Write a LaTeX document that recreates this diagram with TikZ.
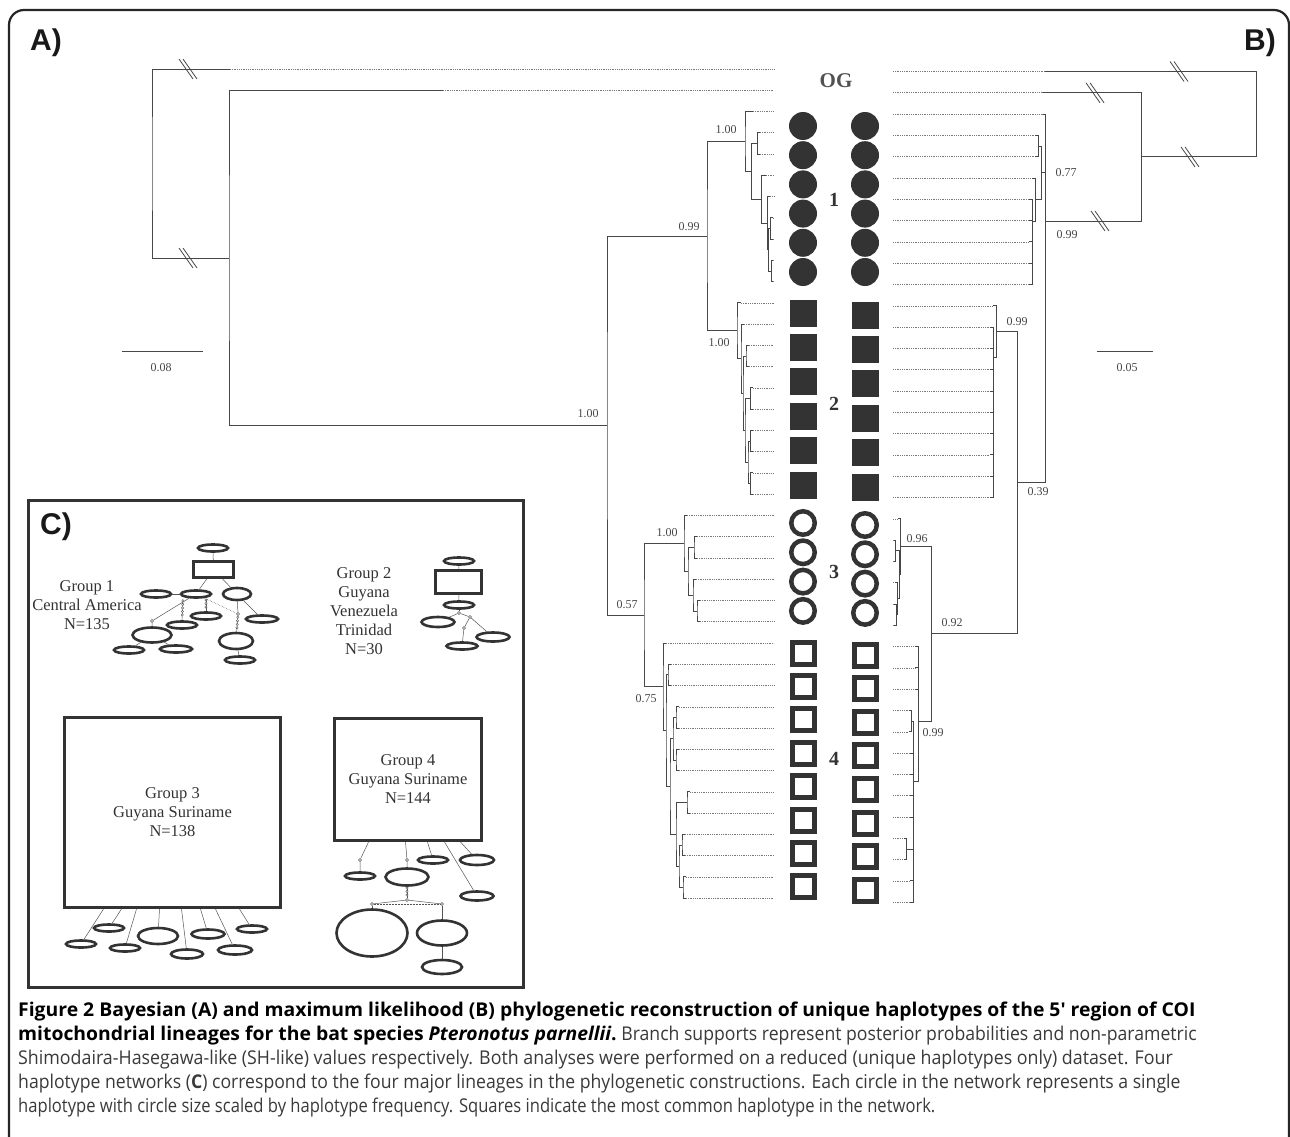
\documentclass[tikz,border=0pt]{standalone}
\usepackage{fontspec}
\setmainfont{Liberation Serif}
\newfontfamily\capfont[FakeStretch=0.928]{Open Sans}
\newfontfamily\labfont{Liberation Sans}
\usetikzlibrary{shapes.geometric,decorations.markings}

\definecolor{treegray}{HTML}{474747}
\definecolor{tipgray}{HTML}{7A7A7A}
\definecolor{symgray}{HTML}{333333}
\definecolor{netgray}{HTML}{333333}
\definecolor{linkgray}{HTML}{555555}
\definecolor{capgray}{HTML}{3A3A3A}

\tikzset{
  branch/.style={draw=treegray, line width=0.9pt},
  tipline/.style={draw=tipgray, line width=0.6pt, dash pattern=on 0.6pt off 1.2pt},
  brk/.style={draw=treegray, line width=0.8pt},
  support/.style={font=\fontsize{12}{12}\selectfont, text=treegray, inner sep=0pt},
  panel/.style={font=\labfont\bfseries\fontsize{30}{30}\selectfont, text=black!90, inner sep=0pt},
  grpnum/.style={font=\bfseries\fontsize{20}{20}\selectfont, text=symgray, inner sep=0pt},
  grptext/.style={font=\fontsize{16.5}{19}\selectfont, align=center, text=netgray, inner sep=0pt},
  fullcirc/.style={circle, fill=symgray, minimum size=28pt, inner sep=0pt},
  fullsq/.style={rectangle, fill=symgray, minimum size=27pt, inner sep=0pt},
  opencirc/.style={circle, draw=symgray, line width=4.5pt, minimum size=23.5pt, inner sep=0pt},
  opensq/.style={rectangle, draw=symgray, line width=5pt, minimum size=22pt, inner sep=0pt},
  hap/.style={ellipse, draw=netgray, line width=2.6pt, inner sep=0pt, minimum width=30pt, minimum height=7pt},
  hapbox/.style={rectangle, draw=netgray, line width=3pt, inner sep=0pt},
  link/.style={draw=linkgray, line width=0.5pt},
  mut/.style={circle, draw=linkgray, fill=white, line width=0.4pt, inner sep=0pt, minimum size=3pt},
  mutchain/.style={link, postaction={decorate}, decoration={markings,
      mark=between positions 0.1 and 0.9 step 3.5pt with {\draw[linkgray, fill=white, line width=0.4pt] (0,0) circle (1.2pt);}}},
  caption/.style={font=\capfont\fontsize{19}{24}\selectfont, text=capgray, align=left, inner sep=0pt}
}

\newcommand{\clade}[3]{\draw[branch] (#2) -| (#1) |- (#3);}
\newcommand{\brk}[1]{\draw[brk] (#1) ++(-9,-10) -- ++(14,20) (#1) ++(-5,-10) -- ++(14,20);}
\newcommand{\capbf}[1]{\scalebox{1.098}[1]{\bfseries\color{black}#1}}

\begin{document}
\begin{tikzpicture}[x=1pt, y=-1pt]
  \useasboundingbox[fill=white] (0,0) rectangle (1290,1137);
  \draw[line width=2.2pt, rounded corners=15pt, black!85] (9,1137) -- (9,10) -- (1289,10) -- (1289,1137);

  \node[panel] (pA) at (46,43) {A)};
  \node[panel] (pB) at (1260,43) {B)};

  % tree A: tips
  \foreach \i/\xs in {0/230,1/443,2/753,3/760,4/760,5/766,6/770,7/773,8/773,9/773,10/773,
      11/741,12/744,13/749,14/749,15/753,16/753,17/753,18/753,19/753,20/753,
      21/687,22/697,23/697,24/696,25/700,26/700,
      27/666,28/671,29/671,30/679,31/679,32/679,33/679,34/690,35/690,36/685,37/685,38/686,39/686}
  {
    \coordinate (a\i) at (\xs,{69+21.26*\i});
    \coordinate (ae\i) at (774,{69+21.26*\i});
    \draw[tipline] (a\i) -- (ae\i);
  }

  % tree A: inner nodes
  \coordinate (rA) at (152,163.5);
  \coordinate (nA1) at (229,258);
  \coordinate (nA2) at (607,425.6);
  \coordinate (nA3) at (707,236.1);
  \coordinate (nA4) at (644,615.1);
  \coordinate (g1A) at (745,141.4);
  \coordinate (bA) at (751,171.3);
  \coordinate (cA) at (757,143.4);
  \coordinate (dA) at (761,199.2);
  \coordinate (eA) at (767,223.2);
  \coordinate (fA) at (768,249.7);
  \coordinate (gA) at (770,228.5);
  \coordinate (hA) at (771,271);
  \coordinate (g2A) at (737,330.8);
  \coordinate (n2aA) at (741,358.7);
  \coordinate (n2bA) at (743,393.2);
  \coordinate (pA2) at (746,356);
  \coordinate (qA) at (745,430.5);
  \coordinate (rrA) at (750,398.5);
  \coordinate (sA) at (748,462.3);
  \coordinate (tA) at (750,441);
  \coordinate (uA) at (750,483.6);
  \coordinate (g3A) at (684,543.4);
  \coordinate (kA) at (688,571.3);
  \coordinate (k1A) at (694,547.4);
  \coordinate (k2A) at (693,595.2);
  \coordinate (k3A) at (697,611.1);
  \coordinate (g4A) at (663,686.9);
  \coordinate (mA) at (666,730.7);
  \coordinate (m1A) at (668,674.9);
  \coordinate (m2A) at (670,786.5);
  \coordinate (vA) at (673,738.7);
  \coordinate (wA) at (676,717.4);
  \coordinate (xA) at (676,760);
  \coordinate (yA) at (676,834.4);
  \coordinate (zA1) at (687,802.5);
  \coordinate (zA2) at (679,866.2);
  \coordinate (zA3) at (682,845);
  \coordinate (zA4) at (683,887.5);

  \clade{rA}{a0}{nA1}
  \clade{nA1}{a1}{nA2}
  \clade{nA2}{nA3}{nA4}
  \clade{nA3}{g1A}{g2A}
  \clade{g1A}{a2}{bA}
  \clade{bA}{cA}{dA}
  \clade{cA}{a3}{a4}
  \clade{dA}{a5}{eA}
  \clade{eA}{a6}{fA}
  \clade{fA}{gA}{hA}
  \clade{gA}{a7}{a8}
  \clade{hA}{a9}{a10}
  \clade{g2A}{a11}{n2aA}
  \clade{n2aA}{a12}{n2bA}
  \clade{n2bA}{pA2}{qA}
  \clade{pA2}{a13}{a14}
  \clade{qA}{rrA}{sA}
  \clade{rrA}{a15}{a16}
  \clade{sA}{tA}{uA}
  \clade{tA}{a17}{a18}
  \clade{uA}{a19}{a20}
  \clade{nA4}{g3A}{g4A}
  \clade{g3A}{a21}{kA}
  \clade{kA}{k1A}{k2A}
  \clade{k1A}{a22}{a23}
  \clade{k2A}{a24}{k3A}
  \clade{k3A}{a25}{a26}
  \clade{g4A}{a27}{mA}
  \clade{mA}{m1A}{m2A}
  \clade{m1A}{a28}{a29}
  \clade{m2A}{vA}{yA}
  \clade{vA}{wA}{xA}
  \clade{wA}{a30}{a31}
  \clade{xA}{a32}{a33}
  \clade{yA}{zA1}{zA2}
  \clade{zA1}{a34}{a35}
  \clade{zA2}{zA3}{zA4}
  \clade{zA3}{a36}{a37}
  \clade{zA4}{a38}{a39}

  \brk{188,69}
  \brk{188,258}

  \node[support] (sA1) at (588,414) {1.00};
  \node[support] (sA2) at (689,227) {0.99};
  \node[support] (sA3) at (726,130) {1.00};
  \node[support] (sA4) at (719,343) {1.00};
  \node[support] (sA5) at (667,533) {1.00};
  \node[support] (sA6) at (627,605) {0.57};
  \node[support] (sA7) at (646,699) {0.75};

  \coordinate (barA1) at (122,351);
  \coordinate (barA2) at (203,351);
  \draw[branch] (barA1) -- (barA2);
  \node[support] (barAl) at (161,368) {0.08};

  % tree B: tips
  \foreach \i/\xs in {0/1045,1/1043,2/1043,3/1035,4/1035,5/1032,6/1029,7/1029,8/1029,9/1029,10/1029,
      11/993,12/990,13/990,14/990,15/990,16/990,17/990,18/990,19/990,20/990,
      21/898,22/894,23/894,24/895,25/894,26/894,
      27/915,28/915,29/915,30/909,31/909,32/910,33/910,34/910,35/910,36/904,37/904,38/910,39/910}
  {
    \coordinate (b\i) at (\xs,{71.5+21.3*\i});
    \coordinate (be\i) at (893,{71.5+21.3*\i});
    \draw[tipline] (be\i) -- (b\i);
  }

  % tree B: inner nodes
  \coordinate (rB) at (1256,114.2);
  \coordinate (pB2) at (1141,156.9);
  \coordinate (qB) at (1045,221);
  \coordinate (n1B) at (1041,172.8);
  \coordinate (c3B) at (1038,146);
  \coordinate (n2B) at (1035,199.5);
  \coordinate (n3B) at (1032,221);
  \coordinate (sB) at (1017,482.7);
  \coordinate (g2B) at (996,331.4);
  \coordinate (n4B) at (993,357);
  \coordinate (g34B) at (931,633.9);
  \coordinate (g3B) at (900,546.8);
  \coordinate (k1B) at (899,574.7);
  \coordinate (k2B) at (895,550.8);
  \coordinate (k3B) at (897,598.7);
  \coordinate (k4B) at (896,614.7);
  \coordinate (g4B) at (918,721);
  \coordinate (n5B) at (913,781);
  \coordinate (m1B) at (911,721.2);
  \coordinate (m3B) at (906,849);

  \clade{rB}{b0}{pB2}
  \clade{pB2}{b1}{qB}
  \clade{qB}{b2}{sB}
  \draw[branch] (n1B) -- (n1B -| qB);
  \clade{n1B}{c3B}{n2B}
  \clade{c3B}{b3}{b4}
  \clade{n2B}{b5}{n3B}
  \foreach \i in {6,...,10} \draw[branch] (b\i) -| (n3B);
  \clade{sB}{g2B}{g34B}
  \clade{g2B}{b11}{n4B}
  \foreach \i in {12,...,20} \draw[branch] (b\i) -| (n4B);
  \clade{g34B}{g3B}{g4B}
  \clade{g3B}{b21}{k1B}
  \clade{k1B}{k2B}{k3B}
  \clade{k2B}{b22}{b23}
  \clade{k3B}{b24}{k4B}
  \clade{k4B}{b25}{b26}
  \clade{g4B}{b27}{n5B}
  \foreach \i in {28,29} \draw[branch] (b\i) -| (g4B);
  \clade{n5B}{m1B}{b39}
  \foreach \i in {32,33,34,35,38} \draw[branch] (b\i) -| (n5B);
  \draw[branch] (m3B) -| (n5B);
  \clade{m1B}{b30}{b31}
  \clade{m3B}{b36}{b37}

  \brk{1179,71.5}
  \brk{1095,92.8}
  \brk{1190,156.9}
  \brk{1100,221}

  \node[support] (sB1) at (1066,173) {0.77};
  \node[support] (sB2) at (1067,235) {0.99};
  \node[support] (sB3) at (1017,322) {0.99};
  \node[support] (sB4) at (1038,492) {0.39};
  \node[support] (sB5) at (917,539) {0.96};
  \node[support] (sB6) at (952,623) {0.92};
  \node[support] (sB7) at (933,733) {0.99};

  \coordinate (barB1) at (1097,351);
  \coordinate (barB2) at (1153,351);
  \draw[branch] (barB1) -- (barB2);
  \node[support] (barBl) at (1127,368) {0.05};

  % lineage symbols
  \foreach \k in {0,...,5} {
    \node[fullcirc] (s1L\k) at (803,{126+29.2*\k}) {};
    \node[fullcirc] (s1R\k) at (865,{126+29.2*\k}) {};
    \node[fullsq] (s2L\k) at (803,{313+34.4*\k}) {};
    \node[fullsq] (s2R\k) at (865,{315+34.4*\k}) {};
  }
  \foreach \k in {0,...,3} {
    \node[opencirc] (s3L\k) at (803,{523+29.3*\k}) {};
    \node[opencirc] (s3R\k) at (865,{525+29.3*\k}) {};
  }
  \foreach \k in {0,...,7} {
    \node[opensq] (s4L\k) at (803,{653+33.4*\k}) {};
    \node[opensq] (s4R\k) at (865,{655+33.6*\k}) {};
  }
  \node[grpnum, text=symgray!85, font=\bfseries\fontsize{21}{21}\selectfont] (og) at (836,81) {OG};
  \node[grpnum] (num1) at (834,200) {1};
  \node[grpnum] (num2) at (834,404) {2};
  \node[grpnum] (num3) at (834,572) {3};
  \node[grpnum] (num4) at (834,759) {4};

  % panel C: haplotype networks
  \draw[netgray, line width=3pt] (28,500) rectangle (523,987);
  \node[panel] (pC) at (56,527) {C)};

  \node[grptext] (txt1) at (87,605) {Group 1\\Central America\\N=135};
  \node[hap] (e0) at (213,548) {};
  \node[hapbox, minimum width=40pt, minimum height=16pt] (R1) at (213.5,569.5) {};
  \node[hap] (e1) at (156,594) {};
  \node[hap] (e2) at (196,594) {};
  \node[hap, minimum width=28pt, minimum height=12pt] (e3) at (237,594) {};
  \node[hap] (e4) at (206,616) {};
  \node[hap] (e5) at (182,625) {};
  \node[hap, minimum width=32pt] (e6) at (262,619) {};
  \node[hap, minimum width=39pt, minimum height=15pt] (e7) at (152,635) {};
  \node[hap, minimum width=34pt, minimum height=16pt] (e8) at (236,641) {};
  \node[hap] (e9) at (129,650) {};
  \node[hap, minimum width=32pt] (e10) at (176,649) {};
  \node[hap] (e11) at (240,660) {};
  \node[mut] (u1) at (152,621) {};
  \node[mut] (u2) at (238,614) {};
  \draw[link] (e0) -- (R1);
  \draw[link] (R1) -- (e2);
  \draw[link] (R1) -- (e3);
  \draw[link] (e1) -- (e2);
  \draw[link] (e2) -- (u1) -- (e7);
  \draw[mutchain] ([xshift=-13pt]e2.south) -- (e5.north);
  \draw[mutchain] ([xshift=10pt]e2.south) -- (e4.north);
  \draw[link, densely dotted] (e2) -- (u2);
  \draw[link] (e3) -- (u2);
  \draw[mutchain] (u2) -- (e8);
  \draw[link] (e3) -- (e6);
  \draw[link] (e7) -- (e9);
  \draw[link] (e7) -- (e10);
  \draw[link] (e8) -- (e11);

  \node[grptext] (txt2) at (364,611) {Group 2\\Guyana\\Venezuela\\Trinidad\\N=30};
  \node[hap] (h0) at (459,561) {};
  \node[hapbox, minimum width=46pt, minimum height=23pt] (R2) at (458.5,582) {};
  \node[hap] (h1) at (459,605) {};
  \node[hap, minimum width=33pt, minimum height=10pt] (hL) at (438,622) {};
  \node[hap, minimum width=33pt, minimum height=9pt] (hR) at (493,637) {};
  \node[hap, minimum width=31pt] (hB) at (462,646) {};
  \node[mut] (j1) at (459,613) {};
  \node[mut] (j2) at (470,617) {};
  \node[mut] (j3) at (464,628) {};
  \draw[link] (h0) -- (R2);
  \draw[link] (R2) -- (h1);
  \draw[link] (h1) -- (j1);
  \draw[link] (j1) -- (hL);
  \draw[link] (j1) -- (j2) -- (hR);
  \draw[link] (j2) -- (j3) -- (hB);

  \node[hapbox, grptext, minimum width=216pt, minimum height=190pt] (G3) at (172.5,812.5) {Group 3\\Guyana Suriname\\N=138};
  \node[hap] (f1) at (81,944) {};
  \node[hap] (f2) at (109,928) {};
  \node[hap] (f3) at (125,948) {};
  \node[hap, minimum width=40pt, minimum height=16pt] (f4) at (158,936) {};
  \node[hap, minimum width=32pt, minimum height=9pt] (f5) at (187,954) {};
  \node[hap, minimum width=33pt, minimum height=9pt] (f6) at (208,934) {};
  \node[hap, minimum width=34pt, minimum height=9pt] (f7) at (235,950) {};
  \node[hap] (f8) at (252,929) {};
  \draw[link] ([xshift=40.5pt]G3.south west) -- (f1);
  \draw[link] ([xshift=58.5pt]G3.south west) -- (f2);
  \draw[link] ([xshift=73.5pt]G3.south west) -- (f3);
  \draw[link] ([xshift=96.5pt]G3.south west) -- (f4);
  \draw[link] ([xshift=118.5pt]G3.south west) -- (f5);
  \draw[link] ([xshift=137.5pt]G3.south west) -- (f6);
  \draw[link] ([xshift=152.5pt]G3.south west) -- (f7);
  \draw[link] ([xshift=176.5pt]G3.south west) -- (f8);

  \node[hapbox, grptext, minimum width=147pt, minimum height=122pt] (G4) at (408,779.5) {Group 4\\Guyana Suriname\\N=144};
  \node[hap] (g1) at (360,876) {};
  \node[hap, minimum width=43pt, minimum height=17pt] (g2) at (407,877) {};
  \node[hap] (g3) at (433,860) {};
  \node[hap, minimum width=34pt, minimum height=10pt] (g4) at (477,860) {};
  \node[hap, minimum width=33pt, minimum height=9pt] (g5) at (477,896) {};
  \node[hap, minimum width=71pt, minimum height=47pt] (g6) at (372,933) {};
  \node[hap, minimum width=50pt, minimum height=25pt] (g7) at (442,933) {};
  \node[hap, minimum width=40pt, minimum height=14pt] (g8) at (442,967) {};
  \node[mut] (v1) at (360,860) {};
  \node[mut] (v2) at (407,860) {};
  \node[mut] (jj) at (407,900) {};
  \node[mut] (jl) at (372,904) {};
  \node[mut] (jr) at (442,904) {};
  \draw[link] ([xshift=35.5pt]G4.south west) -- (v1) -- (g1);
  \draw[link] ([xshift=72.5pt]G4.south west) -- (v2) -- (g2);
  \draw[link] ([xshift=94.5pt]G4.south west) -- (g3);
  \draw[link] ([xshift=111.5pt]G4.south west) -- (g5);
  \draw[link] ([xshift=127.5pt]G4.south west) -- (g4);
  \draw[mutchain] (g2) -- (jj);
  \draw[link] (jj) -- (jl);
  \draw[link] (jj) -- (jr);
  \draw[link, densely dotted] (jl) -- (jr);
  \draw[link] (jl) -- (g6);
  \draw[link] (jr) -- (g7);
  \draw[link] (g7) -- (g8);

  % caption
  \node[caption, anchor=north west] (cap) at (18,1002) {%
    \capbf{Figure 2 Bayesian (A) and maximum likelihood (B) phylogenetic reconstruction of unique haplotypes of the 5′ region of COI}\\
    \capbf{mitochondrial lineages for the bat species \textit{Pteronotus parnellii}.} Branch supports represent posterior probabilities and non-parametric\\
    \scalebox{1.01}[1]{Shimodaira-Hasegawa-like (SH-like) values respectively. Both analyses were performed on a reduced (unique haplotypes only) dataset. Four}\\
    haplotype networks (\textbf{C}) correspond to the four major lineages in the phylogenetic constructions. Each circle in the network represents a single\\
    \scalebox{0.94}[1]{haplotype with circle size scaled by haplotype frequency. Squares indicate the most common haplotype in the network.}};
\end{tikzpicture}
\end{document}
